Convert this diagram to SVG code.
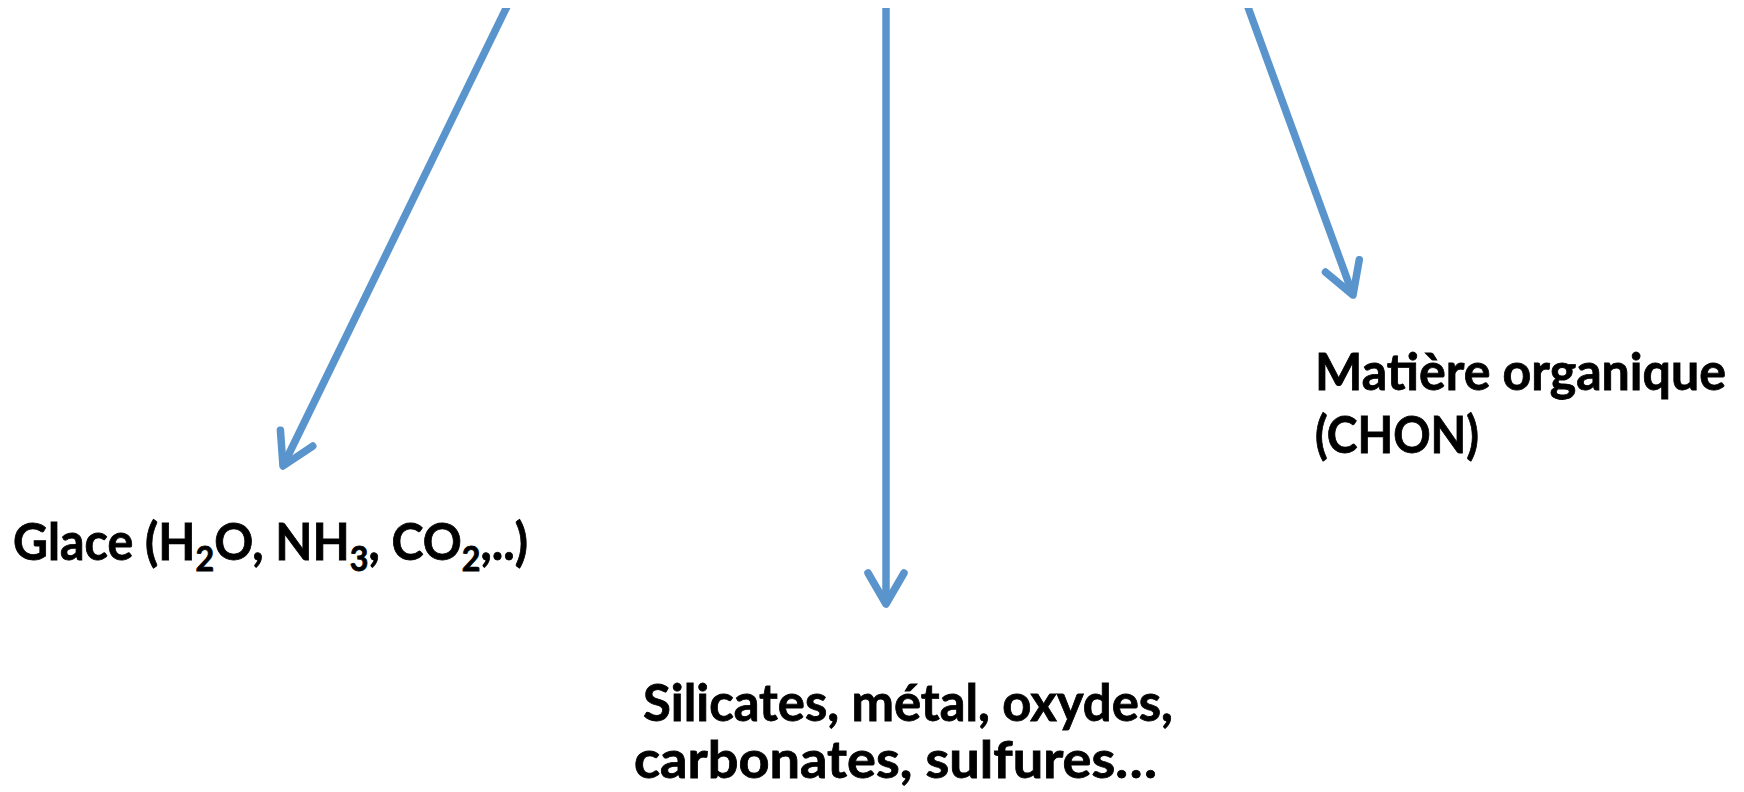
<svg xmlns="http://www.w3.org/2000/svg" width="1744" height="792" viewBox="0 0 1744 792">
<style>
.lbl{font-family:Lato,"Open Sans","Liberation Sans",sans-serif;font-weight:bold;font-size:51px;fill:#000;stroke:#000;stroke-width:0.8}
.conn{stroke:#5A94CC;stroke-width:7.5;fill:none}
.sub{font-size:34px}
</style>
<defs>
<clipPath id="top"><rect x="0" y="8" width="1744" height="784"/></clipPath>
<marker id="ah" markerUnits="userSpaceOnUse" viewBox="-40 -25 48 50" refX="0" refY="0" markerWidth="48" markerHeight="50" orient="auto">
<path d="M-31,-18 L0,0 L-31,18" fill="none" stroke="#5A94CC" stroke-width="7.5" stroke-linecap="round" stroke-linejoin="round"/>
</marker>
</defs>
<rect width="1744" height="792" fill="#fff"/>
<g id="connectors" clip-path="url(#top)">
<line class="conn" x1="516" y1="-12" x2="283" y2="466" marker-end="url(#ah)"/>
<line class="conn" x1="886" y1="-12" x2="886" y2="604" marker-end="url(#ah)"/>
<line class="conn" x1="1241" y1="-12" x2="1353" y2="295" marker-end="url(#ah)"/>
</g>
<g id="glace">
<text class="lbl" x="13" y="560" textLength="515" lengthAdjust="spacingAndGlyphs">Glace (H<tspan class="sub" dy="11">2</tspan><tspan dy="-11">O, NH</tspan><tspan class="sub" dy="11">3</tspan><tspan dy="-11">, CO</tspan><tspan class="sub" dy="11">2</tspan><tspan dy="-11">,..)</tspan></text>
</g>
<g id="matiere">
<text class="lbl" x="1315" y="390" textLength="411" lengthAdjust="spacingAndGlyphs">Matière organique</text>
<text class="lbl" x="1315" y="453" textLength="164" lengthAdjust="spacingAndGlyphs">(CHON)</text>
</g>
<g id="silicates">
<text class="lbl" x="643" y="721" textLength="530" lengthAdjust="spacingAndGlyphs">Silicates, métal, oxydes,</text>
<text class="lbl" x="634" y="778" textLength="523" lengthAdjust="spacingAndGlyphs">carbonates, sulfures…</text>
</g>
</svg>
